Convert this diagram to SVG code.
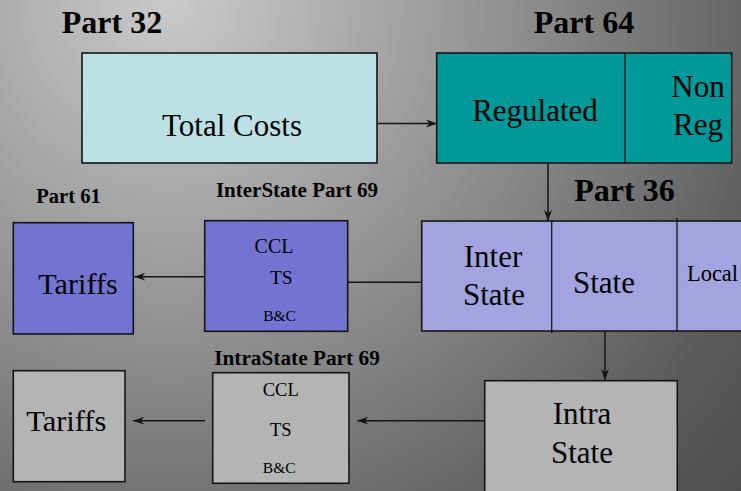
<svg xmlns="http://www.w3.org/2000/svg" width="741" height="491" viewBox="0 0 741 491">
<style>
.box{stroke:#141414;stroke-width:1.6}
.div{stroke:#141414;stroke-width:1.3;fill:none}
.t{font-family:"Liberation Serif","Times New Roman",serif;fill:#000;text-anchor:middle}
.b{font-weight:bold}
.con{stroke:#141414;stroke-width:1.5;fill:none}
</style>
<defs>
<radialGradient id="bg" gradientUnits="userSpaceOnUse" cx="170" cy="0" r="790">
<stop offset="0" stop-color="#cacaca"/>
<stop offset="0.42" stop-color="#919191"/>
<stop offset="0.8" stop-color="#5b5b5b"/>
<stop offset="1" stop-color="#4c4c4c"/>
</radialGradient>
<marker id="arr" viewBox="0 0 11 8" refX="11" refY="4" markerWidth="11" markerHeight="8" orient="auto" markerUnits="userSpaceOnUse">
<path d="M0,0 L11,4 L0,8 L3.5,4 z" fill="#141414"/>
</marker>
</defs>
<rect x="0" y="0" width="741" height="491" fill="url(#bg)"/>

<text class="t b" x="112" y="33" font-size="32">Part 32</text>
<text class="t b" x="584" y="33" font-size="32">Part 64</text>
<text class="t b" x="624.5" y="201" font-size="32">Part 36</text>
<text class="t b" x="68.5" y="203" font-size="20.5">Part 61</text>
<text class="t b" x="297" y="197" font-size="21">InterState Part 69</text>
<text class="t b" x="297" y="365" font-size="21.3">IntraState Part 69</text>

<g id="total-costs">
<rect class="box" x="82" y="53" width="295" height="110" fill="#bce1e4"/>
<text class="t" x="232" y="136" font-size="31">Total Costs</text>
</g>

<g id="part64">
<rect class="box" x="436.7" y="53" width="295" height="110" fill="#009999"/>
<line class="div" x1="625" y1="53" x2="625" y2="163"/>
<text class="t" x="535" y="120.7" font-size="31">Regulated</text>
<text class="t" x="698" y="97.3" font-size="31">Non</text>
<text class="t" x="698" y="135" font-size="31">Reg</text>
</g>

<g id="part36">
<rect class="box" x="421.7" y="221" width="340" height="110" fill="#a3a3e0"/>
<line class="div" x1="551.7" y1="221" x2="551.7" y2="333"/>
<line class="div" x1="677" y1="218" x2="677" y2="331"/>
<text class="t" x="493" y="266.7" font-size="31">Inter</text>
<text class="t" x="494" y="305" font-size="31">State</text>
<text class="t" x="604" y="293.3" font-size="31">State</text>
<text class="t" x="712.5" y="280.7" font-size="22.5">Local</text>
</g>

<g id="interstate69">
<rect class="box" x="204.7" y="220.7" width="143" height="110.6" fill="#7373d1"/>
<text class="t" x="274" y="252.7" font-size="20">CCL</text>
<text class="t" x="281.3" y="284.3" font-size="19.5">TS</text>
<text class="t" x="279.5" y="320.7" font-size="15.5">B&amp;C</text>
</g>

<g id="tariffs61">
<rect class="box" x="13.3" y="222.7" width="120" height="111.3" fill="#7373d1"/>
<text class="t" x="78" y="294.3" font-size="30.2">Tariffs</text>
</g>

<g id="intrastate">
<rect class="box" x="484.7" y="380.7" width="192.6" height="125" fill="#b4b4b4"/>
<text class="t" x="582" y="424.3" font-size="31">Intra</text>
<text class="t" x="582" y="462.7" font-size="31">State</text>
</g>

<g id="intrastate69">
<rect class="box" x="212.7" y="372.7" width="136.3" height="110.6" fill="#b4b4b4"/>
<text class="t" x="280.7" y="395.7" font-size="18.5">CCL</text>
<text class="t" x="280.8" y="436" font-size="18.5">TS</text>
<text class="t" x="279.2" y="472.7" font-size="15.5">B&amp;C</text>
</g>

<g id="tariffs-intra">
<rect class="box" x="13.3" y="370.7" width="111.7" height="111" fill="#b4b4b4"/>
<text class="t" x="66.3" y="430.7" font-size="30.4">Tariffs</text>
</g>

<g id="connectors">
<path class="con" d="M377,123.5 H437" marker-end="url(#arr)"/>
<path class="con" d="M548,163 V221" marker-end="url(#arr)"/>
<path class="con" d="M204.7,276.7 H134.3" marker-end="url(#arr)"/>
<path class="con" d="M347.7,282.3 H421.7"/>
<path class="con" d="M605,331 V380" marker-end="url(#arr)"/>
<path class="con" d="M484.7,420.7 H357.3" marker-end="url(#arr)"/>
<path class="con" d="M205,420.7 H133.3" marker-end="url(#arr)"/>
</g>
</svg>
